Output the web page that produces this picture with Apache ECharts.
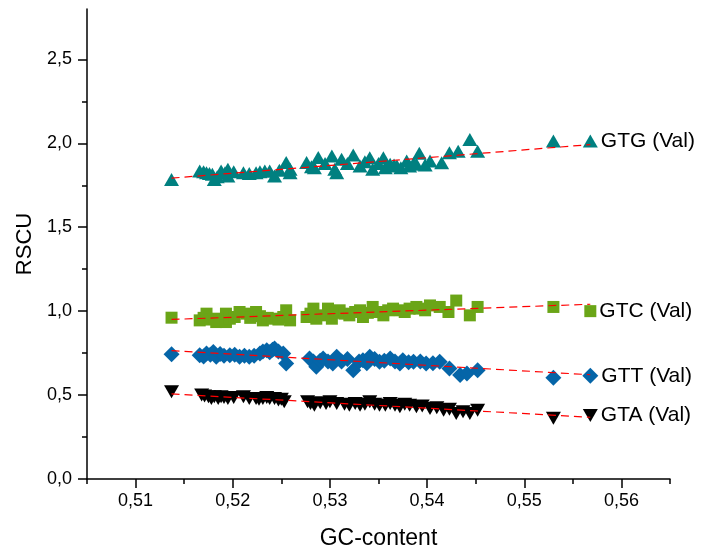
<!DOCTYPE html>
<html><head><meta charset="utf-8">
<script src="https://cdn.jsdelivr.net/npm/echarts@6/dist/echarts.min.js"></script>
<style>html,body{margin:0;padding:0;background:#fff}#c{width:703px;height:555px}</style>
</head><body><div id="c"></div>
<script>
const seriesNames = ['GTG (Val)', 'GTC (Val)', 'GTT (Val)', 'GTA (Val)'];
const seriesColors = ['#008080', '#6aa517', '#0565a8', '#000000'];

const gcGTG = [0.5137,0.5166,0.5170,0.5173,0.5176,0.5179,0.5181,0.5184,0.5188,0.5192,0.5195,0.5195,0.5201,0.5211,0.5217,0.5224,0.5228,0.5233,0.5238,0.5243,0.5248,0.5255,0.5259,0.5259,0.5276,0.5281,0.5288,0.5284,0.5295,0.5302,0.5305,0.5307,0.5312,0.5318,0.5324,0.5331,0.5336,0.5341,0.5344,0.5350,0.5355,0.5357,0.5362,0.5366,0.5369,0.5373,0.5379,0.5382,0.5386,0.5392,0.5389,0.5398,0.5403,0.5415,0.5423,0.5432,0.5444,0.5452,0.5530,0.5568];
const rscuGTG = [1.785,1.835,1.830,1.825,1.820,1.815,1.785,1.800,1.835,1.825,1.845,1.805,1.830,1.825,1.820,1.825,1.830,1.835,1.835,1.805,1.840,1.885,1.845,1.825,1.885,1.860,1.915,1.855,1.880,1.925,1.845,1.825,1.905,1.880,1.930,1.865,1.890,1.914,1.845,1.880,1.914,1.855,1.875,1.870,1.865,1.855,1.894,1.864,1.880,1.940,1.875,1.870,1.894,1.884,1.944,1.953,2.023,1.953,2.013,2.013];

const gcGTC = [0.5137,0.5166,0.5170,0.5173,0.5177,0.5181,0.5183,0.5186,0.5193,0.5193,0.5197,0.5202,0.5207,0.5214,0.5218,0.5224,0.5228,0.5231,0.5236,0.5241,0.5247,0.5252,0.5255,0.5259,0.5276,0.5280,0.5283,0.5286,0.5292,0.5298,0.5302,0.5306,0.5310,0.5315,0.5320,0.5326,0.5331,0.5334,0.5339,0.5344,0.5350,0.5355,0.5360,0.5365,0.5372,0.5377,0.5382,0.5389,0.5392,0.5398,0.5403,0.5413,0.5422,0.5430,0.5444,0.5452,0.5530,0.5568];
const rscuGTC = [0.961,0.945,0.960,0.985,0.950,0.955,0.935,0.945,0.935,0.985,0.955,0.965,0.995,0.985,0.960,0.995,0.970,0.945,0.960,0.955,0.950,0.965,1.005,0.945,0.965,0.985,1.015,0.955,0.975,1.015,0.955,0.990,1.005,0.985,0.975,0.995,1.005,0.965,0.990,1.025,0.995,0.975,1.005,1.015,1.005,0.995,1.015,1.025,1.015,1.005,1.034,1.025,0.995,1.063,0.975,1.025,1.025,1.000];

const gcGTT = [0.5137,0.5166,0.5170,0.5173,0.5177,0.5180,0.5183,0.5187,0.5191,0.5197,0.5202,0.5207,0.5212,0.5217,0.5222,0.5228,0.5231,0.5235,0.5238,0.5241,0.5243,0.5247,0.5252,0.5255,0.5279,0.5283,0.5286,0.5290,0.5293,0.5298,0.5303,0.5307,0.5312,0.5318,0.5324,0.5330,0.5334,0.5338,0.5341,0.5346,0.5351,0.5356,0.5362,0.5367,0.5372,0.5375,0.5381,0.5386,0.5393,0.5399,0.5406,0.5413,0.5423,0.5434,0.5441,0.5452,0.5530,0.5568];
const rscuGTT = [0.743,0.737,0.730,0.747,0.740,0.757,0.728,0.745,0.735,0.737,0.740,0.728,0.735,0.728,0.735,0.747,0.760,0.767,0.755,0.770,0.777,0.760,0.747,0.688,0.718,0.700,0.668,0.705,0.718,0.700,0.688,0.728,0.700,0.715,0.648,0.700,0.708,0.690,0.728,0.715,0.698,0.705,0.718,0.700,0.688,0.708,0.695,0.698,0.700,0.688,0.690,0.698,0.658,0.619,0.629,0.648,0.603,0.615];

const gcGTA = [0.5137,0.5168,0.5171,0.5175,0.5178,0.5181,0.5185,0.5188,0.5191,0.5195,0.5201,0.5211,0.5217,0.5224,0.5227,0.5231,0.5235,0.5238,0.5243,0.5247,0.5250,0.5253,0.5277,0.5280,0.5284,0.5290,0.5296,0.5300,0.5307,0.5315,0.5320,0.5326,0.5331,0.5336,0.5341,0.5346,0.5351,0.5357,0.5362,0.5367,0.5372,0.5377,0.5382,0.5389,0.5395,0.5403,0.5410,0.5417,0.5423,0.5430,0.5437,0.5444,0.5452,0.5530,0.5568];
const rscuGTA = [0.520,0.500,0.495,0.490,0.480,0.490,0.480,0.490,0.485,0.480,0.485,0.490,0.480,0.480,0.475,0.480,0.485,0.480,0.480,0.470,0.475,0.460,0.460,0.450,0.440,0.455,0.450,0.460,0.450,0.445,0.440,0.450,0.440,0.445,0.460,0.445,0.440,0.440,0.450,0.440,0.430,0.445,0.440,0.430,0.435,0.420,0.425,0.410,0.415,0.390,0.400,0.390,0.410,0.362,0.378];

const xMajorTicks = [0.51, 0.52, 0.53, 0.54, 0.55, 0.56];
const xMinorTicks = [0.505, 0.515, 0.525, 0.535, 0.545, 0.555, 0.565];
const yMajorTicks = [0, 0.5, 1.0, 1.5, 2.0, 2.5];
const yMinorTicks = [0.25, 0.75, 1.25, 1.75, 2.25];
const xTitle = 'GC-content';
const yTitle = 'RSCU';

const FONT = "'Liberation Sans', Arial, sans-serif";
const xs = [gcGTG, gcGTC, gcGTT, gcGTA];
const ys = [rscuGTG, rscuGTC, rscuGTT, rscuGTA];
const symbols = [
  {symbol: 'triangle', size: [15, 13], rotate: 0},
  {symbol: 'rect', size: 12, rotate: 0},
  {symbol: 'diamond', size: [16, 16], rotate: 0},
  {symbol: 'triangle', size: [15, 13], rotate: 180}
];

function fit(x, y) {
  const n = x.length;
  let sx = 0, sy = 0, sxx = 0, sxy = 0;
  for (let i = 0; i < n; i++) { sx += x[i]; sy += y[i]; sxx += x[i]*x[i]; sxy += x[i]*y[i]; }
  const b = (n*sxy - sx*sy) / (n*sxx - sx*sx);
  const a = (sy - b*sx) / n;
  const x0 = Math.min(...x), x1 = Math.max(...x);
  return [[x0, a + b*x0], [x1, a + b*x1]];
}

const series = [];
for (let s = 0; s < 4; s++) {
  const x = xs[s], y = ys[s];
  const maxX = Math.max(...x);
  const lastIdx = x.indexOf(maxX);
  const data = x.map((v, i) => {
    const item = {value: [v, y[i]]};
    if (i === lastIdx) {
      item.label = {show: true, position: 'right', distance: 3, formatter: seriesNames[s],
        color: '#000', fontSize: 21, fontFamily: FONT};
    }
    return item;
  });
  series.push({
    type: 'scatter', name: seriesNames[s], data,
    symbol: symbols[s].symbol, symbolSize: symbols[s].size, symbolRotate: symbols[s].rotate,
    itemStyle: {color: seriesColors[s], opacity: 1},
    z: 2, silent: true, animation: false
  });
}
for (let s = 0; s < 4; s++) {
  series.push({
    type: 'line', data: fit(xs[s], ys[s]), symbol: 'none',
    lineStyle: {color: '#ff0000', width: 1.2, type: [8, 5]},
    z: 3, silent: true, animation: false
  });
}

const axisLineStyle = {color: '#000', width: 1.5};
const chart = echarts.init(document.getElementById('c'), null, {renderer: 'canvas'});
chart.setOption({
  animation: false,
  backgroundColor: '#fff',
  grid: {left: 87, right: 33, top: 9, bottom: 74, containLabel: false},
  xAxis: [{
    type: 'value', min: 0.505, max: 0.565, position: 'bottom',
    name: xTitle, nameLocation: 'middle', nameGap: 48,
    nameTextStyle: {fontSize: 23, fontFamily: FONT, color: '#000'},
    axisLine: {show: true, onZero: false, lineStyle: axisLineStyle},
    axisTick: {show: true, customValues: xMajorTicks, length: 9, inside: false, lineStyle: axisLineStyle},
    axisLabel: {show: true, customValues: xMajorTicks, margin: 13, fontSize: 18, fontFamily: FONT, color: '#000',
      formatter: v => v.toFixed(2).replace('.', ',')},
    splitLine: {show: false}
  }, {
    type: 'value', min: 0.505, max: 0.565, position: 'bottom', gridIndex: 0,
    axisLine: {show: false, onZero: false},
    axisTick: {show: true, customValues: xMinorTicks, length: 5, inside: false, lineStyle: axisLineStyle},
    axisLabel: {show: false},
    splitLine: {show: false}
  }],
  yAxis: [{
    type: 'value', min: 0, max: 2.8, position: 'left',
    name: yTitle, nameLocation: 'middle', nameGap: 48, nameRotate: 90,
    nameTextStyle: {fontSize: 22, fontFamily: FONT, color: '#000'},
    axisLine: {show: true, onZero: false, lineStyle: axisLineStyle},
    axisTick: {show: true, customValues: yMajorTicks, length: 9, inside: false, lineStyle: axisLineStyle},
    axisLabel: {show: true, customValues: yMajorTicks, margin: 15, fontSize: 18, fontFamily: FONT, color: '#000',
      formatter: v => v.toFixed(1).replace('.', ',')},
    splitLine: {show: false}
  }, {
    type: 'value', min: 0, max: 2.8, position: 'left', gridIndex: 0,
    axisLine: {show: false, onZero: false},
    axisTick: {show: true, customValues: yMinorTicks, length: 5, inside: false, lineStyle: axisLineStyle},
    axisLabel: {show: false},
    splitLine: {show: false}
  }],
  series
});
</script></body></html>
